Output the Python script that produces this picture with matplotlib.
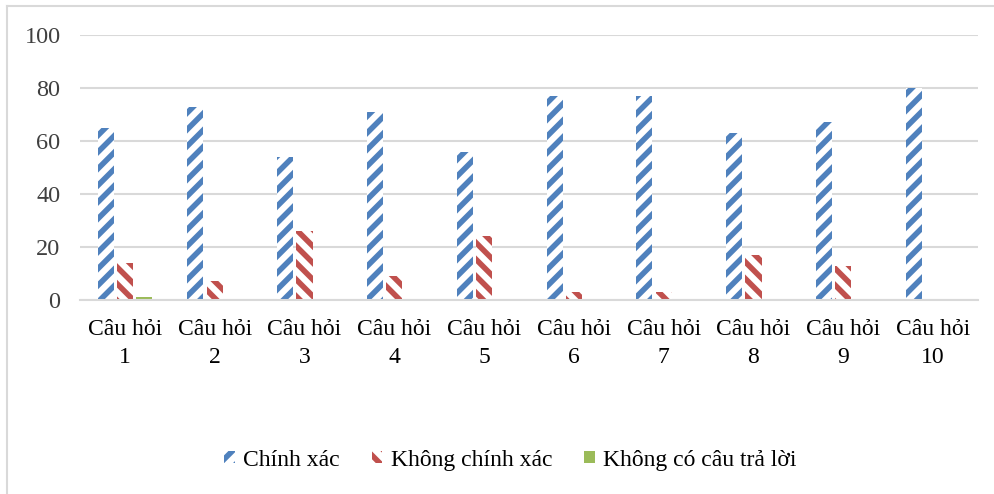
import matplotlib
matplotlib.use("Agg")
import matplotlib.pyplot as plt
from matplotlib.lines import Line2D
from matplotlib.patches import Patch
import numpy as np

categories = ["Câu hỏi\n1", "Câu hỏi\n2", "Câu hỏi\n3", "Câu hỏi\n4", "Câu hỏi\n5",
              "Câu hỏi\n6", "Câu hỏi\n7", "Câu hỏi\n8", "Câu hỏi\n9", "Câu hỏi\n10"]
chinh_xac = [65, 73, 54, 71, 56, 77, 77, 63, 67, 80]
khong_chinh_xac = [14, 7, 26, 9, 24, 3, 3, 17, 13, 0]
khong_tra_loi = [1, 0, 0, 0, 0, 0, 0, 0, 0, 0]
series_names = ["Chính xác", "Không chính xác", "Không có câu trả lời"]
yticks = [0, 20, 40, 60, 80, 100]

plt.rcParams['font.family'] = ['Liberation Serif', 'DejaVu Serif']
plt.rcParams['hatch.linewidth'] = 4.0

blue = "#4F81BD"
red = "#C0504D"
green = "#9BBB59"

fig = plt.figure(figsize=(9.95, 4.94), dpi=100)
ax = fig.add_axes([80/995, 1-300/494, (978-80)/995, (300-35)/494])

x = np.arange(len(categories))
w = 0.18
step = 0.215
ax.bar(x - step, chinh_xac, w, facecolor="white", edgecolor=blue, hatch="//", linewidth=0)
ax.bar(x, khong_chinh_xac, w, facecolor="white", edgecolor=red, hatch="\\\\", linewidth=0)
ax.bar(x + step, khong_tra_loi, w, color=green, linewidth=0)

ax.set_xlim(-0.5, len(categories) - 0.5)
ax.set_ylim(0, 100)
ax.set_yticks(yticks)
ax.set_yticklabels([str(v) for v in yticks], fontsize=17.5, color="#404040")
ax.set_xticks(x)
ax.set_xticklabels(categories, fontsize=17, linespacing=1.4)
ax.tick_params(axis='both', length=0)
ax.tick_params(axis='y', pad=14)
ax.tick_params(axis='x', pad=14)
ax.yaxis.grid(True, color="#D9D9D9", linewidth=1.5)
ax.set_axisbelow(True)
for s in ["top", "right", "left"]:
    ax.spines[s].set_visible(False)
ax.spines["bottom"].set_color("#D9D9D9")
ax.spines["bottom"].set_linewidth(1.5)

handles = [Patch(facecolor="white", edgecolor=blue, hatch="//", linewidth=0),
           Patch(facecolor="white", edgecolor=red, hatch="\\\\", linewidth=0),
           Patch(facecolor=green, linewidth=0)]
fig.legend(handles, series_names, loc="center", bbox_to_anchor=(0.513, 1-460/494),
           ncol=3, frameon=False, fontsize=17, handlelength=0.45, handleheight=0.45,
           columnspacing=1.35, handletextpad=0.35)

# chart-area border
fig.add_artist(Line2D([7/995, 7/995], [0, 1-6/494], transform=fig.transFigure,
                      color="#D9D9D9", linewidth=1.5))
fig.add_artist(Line2D([7/995, 1], [1-6/494, 1-6/494], transform=fig.transFigure,
                      color="#D9D9D9", linewidth=1.5))

fig.savefig("out.png", dpi=100)
